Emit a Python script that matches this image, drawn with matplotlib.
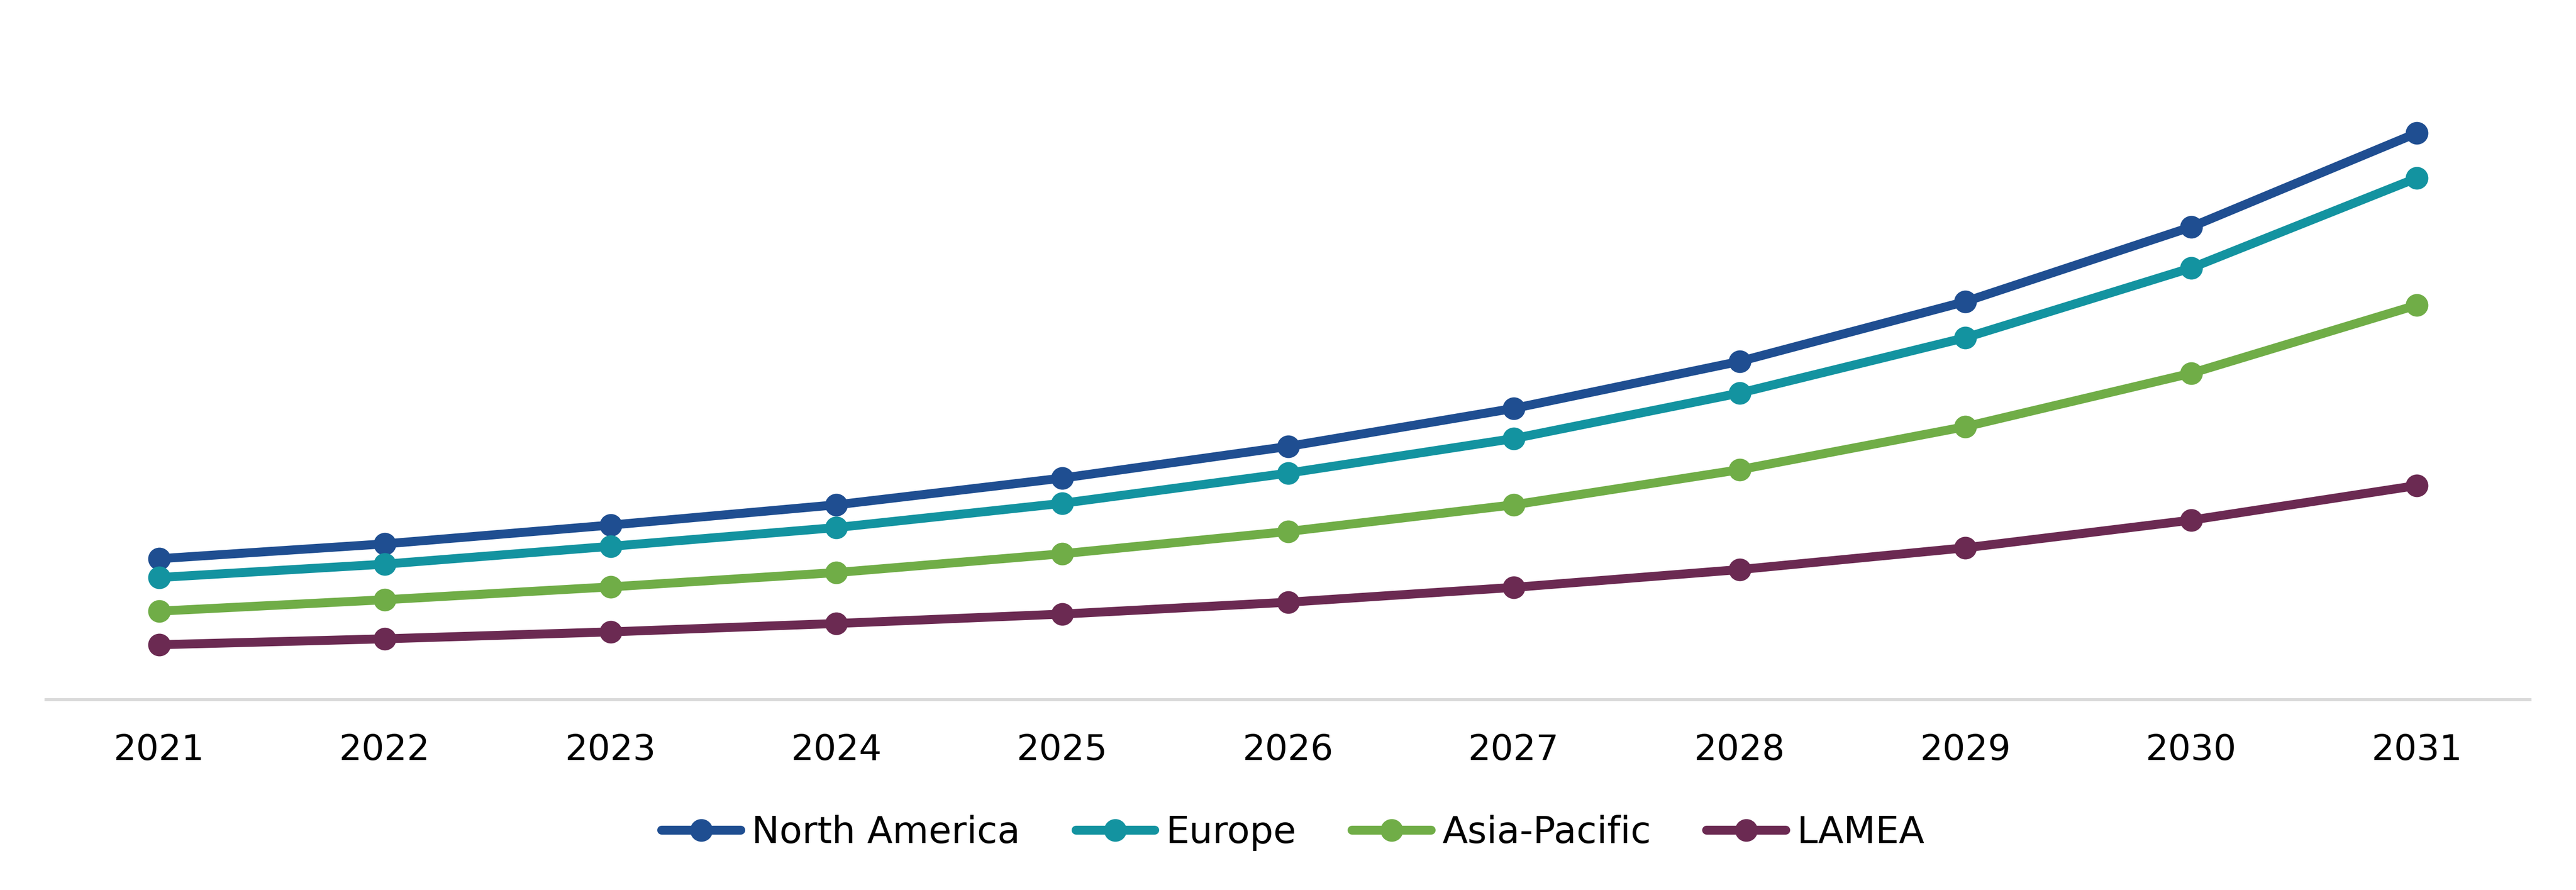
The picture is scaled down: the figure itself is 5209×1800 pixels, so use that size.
import matplotlib
matplotlib.use("Agg")
import matplotlib.pyplot as plt

years = ["2021", "2022", "2023", "2024", "2025", "2026", "2027", "2028", "2029", "2030", "2031"]
north_america = [28.5, 31.5, 35.3, 39.4, 44.8, 51.2, 58.9, 68.4, 80.5, 95.6, 114.6]
europe = [24.7, 27.4, 31.0, 34.8, 39.7, 45.8, 52.8, 62.0, 73.2, 87.3, 105.5]
asia_pacific = [17.9, 20.2, 22.8, 25.7, 29.5, 34.0, 39.4, 46.5, 55.2, 66.0, 79.8]
lamea = [11.1, 12.3, 13.7, 15.4, 17.3, 19.7, 22.7, 26.3, 30.7, 36.3, 43.3]

series = [
    ("North America", north_america, "#1F4E91"),
    ("Europe", europe, "#1393A0"),
    ("Asia-Pacific", asia_pacific, "#70AD47"),
    ("LAMEA", lamea, "#6B2A52"),
]

plt.rcParams['font.family'] = ['DejaVu Sans']
fig = plt.figure(figsize=(52.09, 18), dpi=100)
ax = fig.add_axes([0.0179, 0.2139, 0.9642, 0.7778])

x = list(range(len(years)))
for name, vals, col in series:
    ax.plot(x, vals, color=col, linewidth=13, marker='o', markersize=33,
            markeredgewidth=0, label=name, solid_capstyle='round',
            solid_joinstyle='round')

ax.set_xlim(-0.5, len(years) - 0.5)
ax.set_ylim(0, 140)
ax.set_xticks(x)
ax.set_xticklabels(years, fontsize=52)
ax.tick_params(axis='x', length=0, pad=49)
ax.set_yticks([])
for s in ['top', 'right', 'left']:
    ax.spines[s].set_visible(False)
ax.spines['bottom'].set_color('#D9D9D9')
ax.spines['bottom'].set_linewidth(4.3)

leg = fig.legend(loc='center', bbox_to_anchor=(0.502, 0.064), ncol=4, frameon=False,
                 fontsize=54, handlelength=2.13, handletextpad=0.3, columnspacing=1.5)

fig.savefig("out.png", dpi=100, facecolor='white')
